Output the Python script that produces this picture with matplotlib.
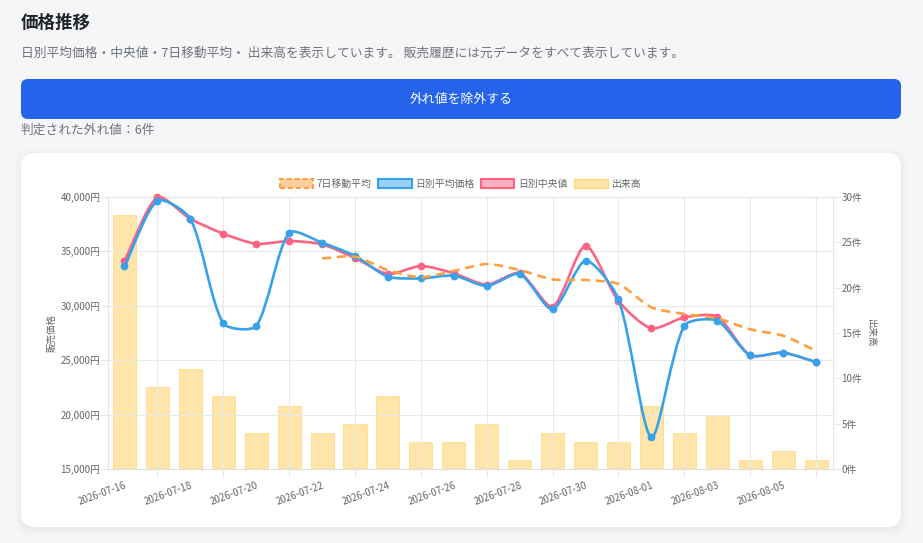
import matplotlib
matplotlib.use("Agg")
import matplotlib.pyplot as plt
from matplotlib.patches import FancyBboxPatch, PathPatch, Patch
from matplotlib.path import Path

plt.rcParams['font.family'] = ['Noto Sans CJK JP', 'DejaVu Sans']

dates = ["2026-07-16", "2026-07-17", "2026-07-18", "2026-07-19", "2026-07-20", "2026-07-21",
         "2026-07-22", "2026-07-23", "2026-07-24", "2026-07-25", "2026-07-26", "2026-07-27",
         "2026-07-28", "2026-07-29", "2026-07-30", "2026-07-31", "2026-08-01", "2026-08-02",
         "2026-08-03", "2026-08-04", "2026-08-05", "2026-08-06"]
avg_price = [33630, 39660, 38000, 28390, 28140, 36720, 35800, 34580, 32680, 32520, 32770,
             31820, 32920, 29680, 34150, 30600, 17910, 28170, 28630, 25450, 25690, 24830]
median_price = [34120, 39970, 38000, 36630, 35700, 35950, 35650, 34390, 32920, 33660, 32990,
                31940, 33000, 29920, 35520, 30440, 27930, 28940, 29000, 25450, 25690, 24830]
ma7_price = [34360, 34510, 33290, 32620, 33200, 33840, 33290, 32430, 32370, 32000, 29860,
             29250, 28850, 27840, 27250, 25870]
volume = [28, 9, 11, 8, 4, 7, 4, 5, 8, 3, 3, 5, 1, 4, 3, 3, 7, 4, 6, 1, 2, 1]
price_ticks = [15000, 20000, 25000, 30000, 35000, 40000]
volume_ticks = [0, 5, 10, 15, 20, 25, 30]

BLUE = "#36a2eb"
RED = "#ff6384"
ORANGE = "#ff9f40"
GRID = "#e8e8e8"
TEXT = "#666666"
NOTE = "#6f7277"
W, H = 923, 543


# Same spline as the web chart, control points worked out in pixels
def spline_path(ax, xs, ys, tension=0.25):
    pts = ax.transData.transform(list(zip(xs, ys)))
    verts = [pts[0]]
    codes = [Path.MOVETO]
    n = len(pts)
    for i in range(n - 1):
        p0 = pts[max(i - 1, 0)]
        p1 = pts[i]
        p2 = pts[i + 1]
        p3 = pts[min(i + 2, n - 1)]
        d01 = ((p1 - p0) ** 2).sum() ** 0.5
        d12 = ((p2 - p1) ** 2).sum() ** 0.5
        d23 = ((p3 - p2) ** 2).sum() ** 0.5
        c1 = p1 + (p2 - p0) * tension * d12 / max(d01 + d12, 1e-6)
        c2 = p2 - (p3 - p1) * tension * d12 / max(d12 + d23, 1e-6)
        verts += [c1, c2, p2]
        codes += [Path.CURVE4] * 3
    return Path(ax.transData.inverted().transform(verts), codes)


def draw_line(ax, xs, ys, color, z, dashed=False):
    style = (0, (3.4, 2.2)) if dashed else "-"
    ax.add_patch(PathPatch(spline_path(ax, xs, ys), fill=False, edgecolor=color, lw=1.9,
                           linestyle=style, zorder=z, capstyle="butt", clip_on=False))
    if not dashed:
        ax.plot(xs, ys, "o", color=color, ms=5.6, mew=0, zorder=z, clip_on=False)


fig = plt.figure(figsize=(W / 100, H / 100), dpi=100, facecolor="#f5f6f8")

# page background: card, button, headings (pixel coordinates)
bg = fig.add_axes([0, 0, 1, 1], zorder=0)
bg.set_xlim(0, W)
bg.set_ylim(H, 0)
bg.axis("off")
for grow, alpha in [(7, 0.006), (5, 0.008), (3, 0.010), (1, 0.014)]:
    bg.add_patch(FancyBboxPatch((21 - grow, 153 - grow + 2), 880 + 2 * grow, 374 + 2 * grow,
                                boxstyle="round,pad=0,rounding_size=16", fc="black", ec="none",
                                alpha=alpha))
bg.add_patch(FancyBboxPatch((21, 153), 880, 374, boxstyle="round,pad=0,rounding_size=14",
                            fc="white", ec="none"))
bg.add_patch(FancyBboxPatch((21, 79), 880, 40, boxstyle="round,pad=0,rounding_size=7",
                            fc="#2563eb", ec="none"))
bg.text(21, 23, "価格推移", fontsize=12.6, fontweight="bold", color="#1f2328", va="center")
bg.text(21, 53, "日別平均価格・中央値・7日移動平均・ 出来高を表示しています。 販売履歴には元データをすべて表示しています。",
        fontsize=9.15, color=NOTE, va="center")
bg.text(461, 99.5, "外れ値を除外する", fontsize=9.3, color="white", va="center", ha="center")
bg.text(20.5, 130, "判定された外れ値：6件", fontsize=9.15, color=NOTE, va="center")

# volume bars sit on the right axis, behind the price lines
ax2 = fig.add_axes([108 / W, (H - 469) / H, 724.5 / W, 272 / H], zorder=1)
ax = fig.add_axes(ax2.get_position(), zorder=2)
ax.patch.set_visible(False)
ax2.yaxis.tick_right()
ax2.yaxis.set_label_position("right")

x = list(range(len(dates)))
ax.set_xlim(-0.5, len(dates) - 0.5)
ax2.set_xlim(-0.5, len(dates) - 0.5)
ax.set_ylim(15000, 40000)
ax2.set_ylim(0, 30)

ax2.bar(x, volume, width=0.7, facecolor=(1, 0.804, 0.337, 0.5),
        edgecolor=(1, 0.804, 0.337, 0.6), linewidth=0.6)

draw_line(ax, x, median_price, RED, 3)
draw_line(ax, x, avg_price, BLUE, 4)
draw_line(ax, x[6:], ma7_price, ORANGE, 5, dashed=True)

# labels on even days, grid and tick marks on odd days
ax.set_xticks(x[::2])
ax.set_xticklabels(dates[::2], rotation=20, ha="right", rotation_mode="anchor",
                   fontsize=7, color=TEXT)
ax.set_xticks(x[1::2], minor=True)
ax.tick_params(axis="x", which="major", length=0, pad=8)
ax.tick_params(axis="x", which="minor", length=5.5, color=GRID, width=0.75)
ax.grid(True, axis="x", which="minor", color=GRID, lw=0.75)
ax.grid(False, axis="x", which="major")

ax.set_yticks(price_ticks)
ax.set_yticklabels([f"{v:,}円" for v in price_ticks], fontsize=7, color=TEXT)
ax.tick_params(axis="y", length=5.5, color=GRID, width=0.75, pad=0)
ax.grid(True, axis="y", color=GRID, lw=0.75)
ax.set_axisbelow(True)
ax.set_ylabel("販売価格", fontsize=6.8, color=TEXT, labelpad=2.5)

ax2.set_xticks([])
ax2.set_yticks(volume_ticks)
ax2.set_yticklabels([f"{v}件" for v in volume_ticks], fontsize=7, color=TEXT)
ax2.tick_params(axis="y", length=5.5, color=GRID, width=0.75, pad=1)
ax2.set_ylabel("出来高", fontsize=6.8, color=TEXT, rotation=270, labelpad=9)

for a in (ax, ax2):
    for side in a.spines:
        a.spines[side].set_color(GRID)
        a.spines[side].set_linewidth(0.75)
ax.spines["bottom"].set_color("#dddddd")

handles = [
    Patch(facecolor=(1, 0.624, 0.251, 0.5), edgecolor=ORANGE, linestyle=(0, (2.4, 1.4)), lw=1.5,
          label="7日移動平均"),
    Patch(facecolor=(0.212, 0.635, 0.922, 0.5), edgecolor=BLUE, lw=1.5, label="日別平均価格"),
    Patch(facecolor=(1, 0.388, 0.518, 0.5), edgecolor=RED, lw=1.5, label="日別中央値"),
    Patch(facecolor=(1, 0.804, 0.337, 0.5), edgecolor=(1, 0.804, 0.337, 0.75), lw=1,
          label="出来高"),
]
ax.legend(handles=handles, ncols=4, loc="center", bbox_to_anchor=(460.5 / W, (H - 184) / H),
          bbox_transform=fig.transFigure, frameon=False, fontsize=7.1, labelcolor=TEXT,
          handlelength=3.35, handleheight=1.0, handletextpad=0.4, columnspacing=0.68,
          borderpad=0, borderaxespad=0)

fig.savefig("out.png", dpi=100, facecolor=fig.get_facecolor())
